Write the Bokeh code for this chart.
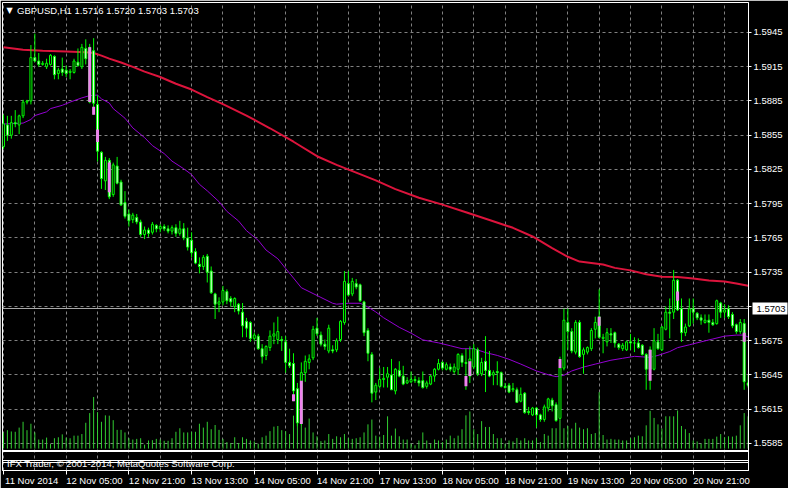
from bokeh.plotting import figure
from bokeh.models import Range1d, FixedTicker, LinearAxis, Label, PrintfTickFormatter, ColumnDataSource
from bokeh.embed import file_html
from bokeh.resources import INLINE

# ---------------- data (GBPUSD, H1) ----------------
opens = [
    1.5845, 1.5864, 1.5855, 1.5866, 1.5864, 1.5872, 1.5884, 1.5885, 1.5923, 1.5920,
    1.5917, 1.5915, 1.5917, 1.5924, 1.5909, 1.5913, 1.5912, 1.5910, 1.5910, 1.5919,
    1.5915, 1.5931, 1.5932, 1.5929, 1.5882, 1.5840, 1.5815, 1.5833, 1.5803, 1.5828,
    1.5814, 1.5796, 1.5786, 1.5781, 1.5783, 1.5779, 1.5768, 1.5772, 1.5770, 1.5776,
    1.5773, 1.5775, 1.5773, 1.5771, 1.5774, 1.5769, 1.5773, 1.5765, 1.5763, 1.5753,
    1.5742, 1.5740, 1.5749, 1.5736, 1.5716, 1.5707, 1.5709, 1.5718, 1.5712, 1.5705,
    1.5707, 1.5700, 1.5692, 1.5691, 1.5677, 1.5679, 1.5668, 1.5662, 1.5669, 1.5679,
    1.5676, 1.5676, 1.5674, 1.5656, 1.5655, 1.5633, 1.5603, 1.5647, 1.5656, 1.5660,
    1.5686, 1.5680, 1.5672, 1.5666, 1.5667, 1.5667, 1.5676, 1.5691, 1.5725, 1.5716,
    1.5725, 1.5724, 1.5709, 1.5684, 1.5663, 1.5630, 1.5635, 1.5641, 1.5643, 1.5645,
    1.5631, 1.5649, 1.5644, 1.5638, 1.5639, 1.5641, 1.5640, 1.5640, 1.5635, 1.5637,
    1.5644, 1.5650, 1.5656, 1.5650, 1.5652, 1.5648, 1.5650, 1.5662, 1.5656, 1.5644,
    1.5652, 1.5667, 1.5646, 1.5657, 1.5649, 1.5645, 1.5648, 1.5647, 1.5635, 1.5636,
    1.5632, 1.5632, 1.5622, 1.5629, 1.5613, 1.5610, 1.5616, 1.5610, 1.5606, 1.5616,
    1.5623, 1.5619, 1.5607, 1.5651, 1.5691, 1.5683, 1.5665, 1.5691, 1.5663, 1.5665,
    1.5668, 1.5685, 1.5696, 1.5677, 1.5674, 1.5681, 1.5682, 1.5672, 1.5668, 1.5667,
    1.5674, 1.5673, 1.5673, 1.5671, 1.5663, 1.5650, 1.5650, 1.5674, 1.5667, 1.5685,
    1.5700, 1.5700, 1.5728, 1.5703, 1.5682, 1.5688, 1.5703, 1.5699, 1.5695, 1.5691,
    1.5693, 1.5691, 1.5690, 1.5708, 1.5700, 1.5703, 1.5698, 1.5689, 1.5683, 1.5690,
    1.5638,
]
highs = [
    1.5873, 1.5872, 1.5872, 1.5877, 1.5873, 1.5886, 1.5886, 1.5934, 1.5944, 1.5927,
    1.5920, 1.5922, 1.5926, 1.5925, 1.5914, 1.5923, 1.5916, 1.5913, 1.5922, 1.5931,
    1.5935, 1.5939, 1.5935, 1.5940, 1.5890, 1.5841, 1.5836, 1.5835, 1.5831, 1.5836,
    1.5816, 1.5806, 1.5790, 1.5787, 1.5786, 1.5781, 1.5775, 1.5774, 1.5779, 1.5777,
    1.5777, 1.5777, 1.5776, 1.5776, 1.5777, 1.5780, 1.5778, 1.5774, 1.5770, 1.5756,
    1.5748, 1.5750, 1.5751, 1.5740, 1.5717, 1.5713, 1.5723, 1.5720, 1.5714, 1.5713,
    1.5708, 1.5708, 1.5695, 1.5692, 1.5682, 1.5681, 1.5672, 1.5671, 1.5684, 1.5691,
    1.5696, 1.5679, 1.5679, 1.5668, 1.5664, 1.5638, 1.5656, 1.5662, 1.5663, 1.5688,
    1.5695, 1.5683, 1.5676, 1.5689, 1.5671, 1.5677, 1.5693, 1.5736, 1.5736, 1.5730,
    1.5729, 1.5725, 1.5710, 1.5686, 1.5665, 1.5638, 1.5651, 1.5652, 1.5652, 1.5659,
    1.5651, 1.5657, 1.5653, 1.5643, 1.5648, 1.5644, 1.5643, 1.5648, 1.5640, 1.5645,
    1.5651, 1.5659, 1.5657, 1.5656, 1.5655, 1.5655, 1.5664, 1.5664, 1.5668, 1.5670,
    1.5672, 1.5669, 1.5660, 1.5679, 1.5666, 1.5649, 1.5657, 1.5648, 1.5638, 1.5638,
    1.5638, 1.5634, 1.5634, 1.5630, 1.5617, 1.5617, 1.5617, 1.5611, 1.5619, 1.5625,
    1.5625, 1.5621, 1.5661, 1.5703, 1.5703, 1.5686, 1.5693, 1.5693, 1.5669, 1.5670,
    1.5686, 1.5696, 1.5720, 1.5681, 1.5686, 1.5686, 1.5683, 1.5673, 1.5673, 1.5675,
    1.5681, 1.5678, 1.5677, 1.5672, 1.5664, 1.5670, 1.5686, 1.5681, 1.5688, 1.5705,
    1.5712, 1.5737, 1.5729, 1.5712, 1.5690, 1.5712, 1.5712, 1.5700, 1.5698, 1.5698,
    1.5698, 1.5694, 1.5711, 1.5709, 1.5707, 1.5706, 1.5700, 1.5690, 1.5694, 1.5694,
    1.5645,
]
lows = [
    1.5843, 1.5850, 1.5852, 1.5862, 1.5856, 1.5870, 1.5882, 1.5882, 1.5919, 1.5915,
    1.5916, 1.5913, 1.5916, 1.5904, 1.5904, 1.5907, 1.5906, 1.5904, 1.5909, 1.5915,
    1.5913, 1.5917, 1.5883, 1.5873, 1.5832, 1.5808, 1.5807, 1.5799, 1.5801, 1.5812,
    1.5793, 1.5782, 1.5775, 1.5778, 1.5777, 1.5766, 1.5764, 1.5766, 1.5768, 1.5770,
    1.5770, 1.5771, 1.5769, 1.5768, 1.5766, 1.5767, 1.5763, 1.5754, 1.5748, 1.5742,
    1.5734, 1.5737, 1.5726, 1.5716, 1.5694, 1.5700, 1.5706, 1.5707, 1.5705, 1.5700,
    1.5698, 1.5678, 1.5678, 1.5674, 1.5675, 1.5667, 1.5655, 1.5658, 1.5666, 1.5672,
    1.5672, 1.5666, 1.5647, 1.5651, 1.5622, 1.5600, 1.5601, 1.5639, 1.5650, 1.5658,
    1.5679, 1.5670, 1.5667, 1.5664, 1.5664, 1.5665, 1.5674, 1.5689, 1.5714, 1.5714,
    1.5720, 1.5709, 1.5679, 1.5657, 1.5621, 1.5623, 1.5633, 1.5634, 1.5634, 1.5632,
    1.5628, 1.5643, 1.5636, 1.5637, 1.5638, 1.5638, 1.5635, 1.5633, 1.5633, 1.5636,
    1.5639, 1.5649, 1.5649, 1.5649, 1.5648, 1.5646, 1.5645, 1.5652, 1.5632, 1.5638,
    1.5650, 1.5644, 1.5644, 1.5630, 1.5643, 1.5636, 1.5636, 1.5634, 1.5633, 1.5629,
    1.5630, 1.5621, 1.5621, 1.5611, 1.5610, 1.5609, 1.5599, 1.5604, 1.5604, 1.5613,
    1.5613, 1.5604, 1.5606, 1.5649, 1.5667, 1.5664, 1.5663, 1.5660, 1.5646, 1.5663,
    1.5666, 1.5677, 1.5677, 1.5664, 1.5670, 1.5673, 1.5669, 1.5667, 1.5666, 1.5666,
    1.5667, 1.5665, 1.5668, 1.5662, 1.5632, 1.5632, 1.5649, 1.5667, 1.5666, 1.5684,
    1.5677, 1.5694, 1.5701, 1.5674, 1.5679, 1.5687, 1.5690, 1.5693, 1.5689, 1.5690,
    1.5682, 1.5688, 1.5689, 1.5695, 1.5695, 1.5694, 1.5686, 1.5681, 1.5681, 1.5632,
    1.5634,
]
closes = [
    1.5865, 1.5855, 1.5866, 1.5865, 1.5872, 1.5884, 1.5885, 1.5923, 1.5920, 1.5917,
    1.5918, 1.5918, 1.5925, 1.5908, 1.5912, 1.5910, 1.5909, 1.5911, 1.5920, 1.5916,
    1.5932, 1.5922, 1.5884, 1.5883, 1.5841, 1.5817, 1.5833, 1.5801, 1.5829, 1.5813,
    1.5794, 1.5784, 1.5780, 1.5785, 1.5779, 1.5768, 1.5772, 1.5769, 1.5777, 1.5773,
    1.5775, 1.5773, 1.5771, 1.5774, 1.5769, 1.5773, 1.5765, 1.5757, 1.5752, 1.5743,
    1.5740, 1.5748, 1.5735, 1.5717, 1.5707, 1.5709, 1.5719, 1.5710, 1.5709, 1.5712,
    1.5701, 1.5688, 1.5686, 1.5677, 1.5680, 1.5668, 1.5661, 1.5670, 1.5679, 1.5681,
    1.5683, 1.5675, 1.5656, 1.5653, 1.5631, 1.5603, 1.5647, 1.5657, 1.5659, 1.5685,
    1.5681, 1.5672, 1.5670, 1.5686, 1.5666, 1.5675, 1.5692, 1.5727, 1.5715, 1.5727,
    1.5722, 1.5710, 1.5682, 1.5664, 1.5629, 1.5636, 1.5641, 1.5642, 1.5646, 1.5632,
    1.5650, 1.5644, 1.5637, 1.5640, 1.5641, 1.5640, 1.5638, 1.5634, 1.5638, 1.5644,
    1.5650, 1.5655, 1.5651, 1.5654, 1.5650, 1.5652, 1.5663, 1.5656, 1.5655, 1.5659,
    1.5668, 1.5646, 1.5656, 1.5649, 1.5644, 1.5647, 1.5647, 1.5635, 1.5634, 1.5630,
    1.5633, 1.5621, 1.5628, 1.5612, 1.5612, 1.5616, 1.5610, 1.5606, 1.5617, 1.5624,
    1.5618, 1.5605, 1.5651, 1.5693, 1.5683, 1.5666, 1.5691, 1.5661, 1.5667, 1.5669,
    1.5684, 1.5691, 1.5678, 1.5678, 1.5682, 1.5680, 1.5673, 1.5669, 1.5671, 1.5674,
    1.5673, 1.5673, 1.5669, 1.5663, 1.5650, 1.5667, 1.5675, 1.5668, 1.5687, 1.5700,
    1.5699, 1.5728, 1.5702, 1.5682, 1.5687, 1.5703, 1.5700, 1.5695, 1.5693, 1.5693,
    1.5691, 1.5689, 1.5710, 1.5700, 1.5702, 1.5696, 1.5688, 1.5683, 1.5691, 1.5639,
    1.5636,
]
volumes = [
    500, 570, 530, 520, 650, 830, 570, 770, 500, 280,
    280, 340, 140, 320, 350, 440, 340, 320, 400, 400,
    450, 800, 1100, 1600, 1130, 830, 1030, 1020, 880, 580,
    580, 500, 320, 280, 300, 320, 120, 250, 260, 300,
    280, 240, 240, 320, 520, 630, 500, 500, 520, 520,
    770, 650, 830, 600, 730, 580, 300, 200, 170, 350,
    170, 350, 300, 250, 220, 150, 350, 400, 540, 680,
    700, 570, 540, 450, 1020, 1150, 750, 650, 930, 500,
    380, 230, 250, 450, 300, 380, 350, 450, 320, 300,
    320, 350, 500, 750, 900, 400, 370, 420, 1000, 400,
    620, 380, 280, 280, 150, 100, 250, 500, 250, 150,
    280, 250, 200, 280, 400, 320, 400, 600, 1030, 1150,
    600, 450, 850, 670, 670, 450, 320, 320, 150, 250,
    220, 330, 250, 320, 250, 250, 320, 200, 450, 400,
    630, 630, 900, 630, 700, 620, 800, 650, 600, 630,
    450, 480, 1750, 420, 280, 300, 280, 280, 250, 250,
    320, 350, 400, 380, 720, 1170, 950, 750, 620, 1000,
    1000, 1000, 1180, 700, 600, 480, 250, 220, 150, 300,
    300, 300, 370, 450, 350, 380, 370, 400, 720, 1100,
    1000,
]

# highlighted (violet) bodies
pink_bar = [22, 23, 24, 27, 74, 76, 118, 119, 142, 152, 165, 172, 189]
pink_top = [1.5932, 1.5880, 1.5860, 1.5831, 1.5628, 1.5640, 1.5644, 1.5657, 1.5659, 1.5696, 1.5667, 1.5718, 1.5682]
pink_bottom = [1.5884, 1.5873, 1.5849, 1.5805, 1.5622, 1.5602, 1.5635, 1.5644, 1.5651, 1.5688, 1.5640, 1.5710, 1.5674]

# slow moving average (red)
slow_ma_bar = [0, 5, 10, 16, 21, 23, 25, 27, 30, 33, 36, 40, 44, 48, 52, 56, 62, 68, 74, 80,
               85, 90, 95, 100, 106, 112, 118, 124, 130, 135, 140, 144, 147, 153, 156, 160, 164, 168, 172, 176,
               180, 184, 187, 190]
slow_ma = [1.59320, 1.59298, 1.59289, 1.59283, 1.59276, 1.59270, 1.59247, 1.59221, 1.59187, 1.59149,
           1.59107, 1.59060, 1.59001, 1.58950, 1.58883, 1.58823, 1.58722, 1.58611, 1.58493, 1.58366,
           1.58290, 1.58222, 1.58154, 1.58078, 1.58002, 1.57942, 1.57875, 1.57807, 1.57739, 1.57663,
           1.57561, 1.57485, 1.57443, 1.57417, 1.57388, 1.57366, 1.57332, 1.57311, 1.57307, 1.57294,
           1.57277, 1.57269, 1.57252, 1.57231]

# fast moving average (purple)
fast_ma_bar = [0, 5, 7, 8, 11, 12, 15, 17, 20, 22, 24, 25, 27, 28, 31, 33, 36, 38, 41, 43,
               46, 48, 50, 52, 55, 57, 60, 62, 65, 67, 70, 72, 74, 76, 79, 81, 84, 85, 88, 91,
               93, 95, 97, 101, 104, 107, 111, 114, 117, 120, 123, 126, 129, 132, 136, 139, 141, 143, 145, 148,
               151, 155, 158, 161, 165, 167, 170, 172, 175, 178, 181, 184, 187, 189, 190]
fast_ma = [1.58648, 1.58656, 1.58688, 1.58722, 1.58755, 1.58783, 1.58812, 1.58840, 1.58877, 1.58897,
           1.58902, 1.58868, 1.58832, 1.58783, 1.58699, 1.58614, 1.58529, 1.58459, 1.58389, 1.58323,
           1.58256, 1.58205, 1.58120, 1.58063, 1.57968, 1.57883, 1.57798, 1.57714, 1.57629, 1.57544,
           1.57468, 1.57383, 1.57299, 1.57214, 1.57163, 1.57129, 1.57078, 1.57070, 1.57078, 1.57078,
           1.57045, 1.57002, 1.56951, 1.56867, 1.56816, 1.56757, 1.56731, 1.56706, 1.56680, 1.56680,
           1.56646, 1.56621, 1.56587, 1.56545, 1.56485, 1.56452, 1.56435, 1.56447, 1.56485, 1.56519,
           1.56545, 1.56579, 1.56596, 1.56613, 1.56604, 1.56621, 1.56655, 1.56689, 1.56714, 1.56740,
           1.56765, 1.56790, 1.56799, 1.56799, 1.56782]

price_ticks = [1.5585, 1.5615, 1.5645, 1.5675, 1.5705, 1.5735, 1.5765, 1.5795, 1.5825, 1.5855, 1.5885, 1.5915, 1.5945]
hidden_price_label = 1.5705   # covered by the bid box in the terminal
time_tick_bars = [0, 16, 32, 48, 64, 80, 96, 112, 128, 144, 160, 176]
time_tick_labels = ["11 Nov 2014", "12 Nov 05:00", "12 Nov 21:00", "13 Nov 13:00", "14 Nov 05:00",
                    "14 Nov 21:00", "17 Nov 13:00", "18 Nov 05:00", "18 Nov 21:00", "19 Nov 13:00",
                    "20 Nov 05:00", "20 Nov 21:00"]
grid_bars = [0, 8, 16, 24, 32, 40, 48, 56, 64, 72, 80, 88, 96, 104, 112, 120, 128, 136, 144, 152,
             160, 168, 176, 184]

symbol_text = "GBPUSD,H1  1.5716 1.5720 1.5703 1.5703"
bid_price = 1.5703
bid_text = "1.5703"
copyright_text = "IFX Trader, \u00a9 2001-2014, MetaQuotes Software Corp."

# ---------------- layout ----------------
W, H = 788, 488
BL, BR, BT, BB = 2, 40, 2, 17
FRAME_H = H - BT - BB
X_LO, X_HI = -0.25, 190.1
P_LO, P_HI = 1.55613, 1.597126
VOL_BASE_PX = 22.0
VOL_PER_PX = 30.96
SUBWIN_LINES_PX = [20.4, 18.6, 10.3, 8.5]
FONT = "Liberation Sans"
FS = "9.5px"
LIME = "#00FF00"

p = figure(width=W, height=H, x_range=Range1d(X_LO, X_HI), y_range=Range1d(P_LO, P_HI),
           output_backend="svg", toolbar_location=None, y_axis_location="right",
           background_fill_color="black", border_fill_color="black",
           min_border_left=BL, min_border_right=BR, min_border_top=BT, min_border_bottom=BB,
           outline_line_color="white", outline_line_width=1)
p.extra_y_ranges = {
    "px": Range1d(0, FRAME_H),
    "vol": Range1d(-VOL_BASE_PX * VOL_PER_PX, (FRAME_H - VOL_BASE_PX) * VOL_PER_PX),
}

# grid
p.xgrid.ticker = FixedTicker(ticks=grid_bars)
p.ygrid.ticker = FixedTicker(ticks=price_ticks)
p.grid.grid_line_color = "#808080"
p.grid.grid_line_dash = "3 3"
p.grid.grid_line_width = 1

# price axis (right)
ya = p.yaxis[0]
ya.ticker = FixedTicker(ticks=price_ticks)
ya.formatter = PrintfTickFormatter(format="%.4f")
ya.major_label_overrides = {hidden_price_label: ""}
ya.axis_line_color = "white"
ya.major_tick_line_color = "white"
ya.minor_tick_line_color = None
ya.major_tick_out = 3
ya.major_tick_in = 0
ya.major_label_standoff = 2
ya.major_label_text_color = "white"
ya.major_label_text_font = FONT
ya.major_label_text_font_size = FS

# bid price box: second right axis whose single (thick, white) tick reaches back
# over the price-label column, with the black label drawn on top of it
BID_TICK_IN = 33
BID_TICK_OUT = 2
BID_STANDOFF = -31
bid_ax = LinearAxis(ticker=FixedTicker(ticks=[bid_price]),
                    major_label_overrides={bid_price: bid_text},
                    axis_line_color=None, minor_tick_line_color=None,
                    major_tick_line_color="white", major_tick_line_width=12,
                    major_tick_in=BID_TICK_IN, major_tick_out=BID_TICK_OUT,
                    major_label_standoff=BID_STANDOFF, major_label_text_color="black",
                    major_label_text_font=FONT, major_label_text_font_size=FS)
p.add_layout(bid_ax, "right")

# time axis: ticks
xa = p.xaxis[0]
xa.ticker = FixedTicker(ticks=time_tick_bars)
xa.axis_line_color = "white"
xa.major_tick_line_color = "white"
xa.minor_tick_line_color = None
xa.major_tick_out = 4
xa.major_tick_in = 0
xa.major_label_text_font_size = "0px"
xa.major_label_text_color = None
xa.major_label_standoff = 0

# time axis: left-aligned labels (shifted to start at each tick)
LABEL_SHIFT = 7.2
label_pos = [round(b + LABEL_SHIFT, 2) for b in time_tick_bars]
ax2 = LinearAxis(ticker=FixedTicker(ticks=label_pos),
                 major_label_overrides={pos: t for pos, t in zip(label_pos, time_tick_labels)},
                 axis_line_color=None, major_tick_line_color=None, minor_tick_line_color=None,
                 major_tick_out=0, major_tick_in=0,
                 major_label_standoff=0, major_label_text_color="white",
                 major_label_text_font=FONT, major_label_text_font_size=FS)
p.add_layout(ax2, "below")

# sub-window borders
p.hspan(y=SUBWIN_LINES_PX, y_range_name="px", line_color="white", line_width=1)

bars = list(range(len(opens)))

# volumes
p.segment(x0=bars, y0=[0] * len(bars), x1=bars, y1=volumes, y_range_name="vol",
          line_color="#32CD32", line_width=1)

# bid line
p.hspan(y=[bid_price], line_color="#a8a8a8", line_width=1)

# moving averages
p.line(slow_ma_bar, slow_ma, line_color="#DC143C", line_width=2)
p.line(fast_ma_bar, fast_ma, line_color="#9400D3", line_width=1)

# candles
src = ColumnDataSource(dict(
    x=bars, o=opens, h=highs, l=lows, c=closes,
    top=[max(o, c) for o, c in zip(opens, closes)],
    bot=[min(o, c) for o, c in zip(opens, closes)],
    fill=["black" if c > o else "white" for o, c in zip(opens, closes)],
))
p.segment(x0="x", y0="l", x1="x", y1="h", source=src, line_color=LIME, line_width=1)
p.vbar(x="x", top="top", bottom="bot", width=0.5, source=src,
       fill_color="fill", line_color=LIME, line_width=1)

# violet highlighted bodies
p.vbar(x=pink_bar, top=pink_top, bottom=pink_bottom, width=0.75,
       fill_color="#EE82EE", line_color=None)

# texts
p.add_layout(Label(x=4, y=FRAME_H - 9, x_units="screen", y_units="screen", text="\u25bc",
                   text_color="white", text_font="DejaVu Sans", text_font_size="8px",
                   text_baseline="middle"))
p.add_layout(Label(x=14.5, y=FRAME_H - 9, x_units="screen", y_units="screen", text=symbol_text,
                   text_color="white", text_font=FONT, text_font_size=FS, text_baseline="middle"))
p.add_layout(Label(x=4.5, y=6.8, x_units="screen", y_units="screen", text=copyright_text,
                   text_color="white", text_font=FONT, text_font_size=FS, text_baseline="middle"))

open("out.html", "w").write(file_html(p, INLINE))
